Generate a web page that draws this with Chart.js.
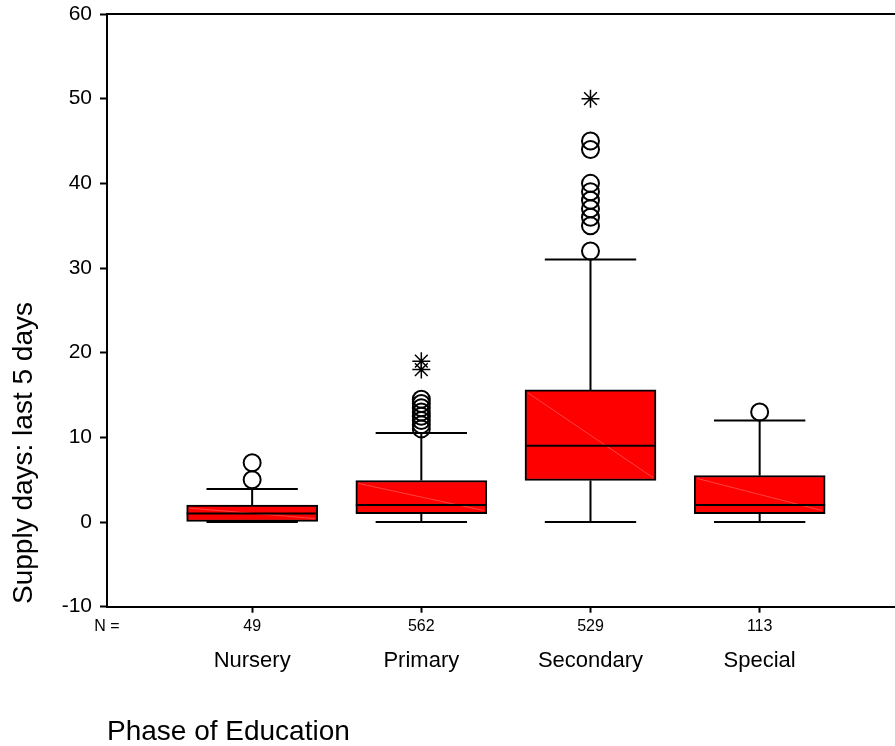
<!DOCTYPE html>
<html>
<head>
<meta charset="utf-8">
<script src="https://cdn.jsdelivr.net/npm/chart.js@4.4.0/dist/chart.umd.min.js"></script>
<style>
    html, body { margin: 0; padding: 0; background: #fff; overflow: hidden; }
    canvas { display: block; }
</style>
</head>
<body>
<canvas id="boxChart" width="895" height="746"></canvas>
<script>
/* ================= DATA ================= */

const categories = ['Nursery', 'Primary', 'Secondary', 'Special'];
const counts = [49, 562, 529, 113];

const whiskerLow = [0, 0, 0, 0];
const quartile1 = [0, 1, 4.9, 1];
const medians = [1, 2, 9, 2];
const quartile3 = [2, 4.9, 15.6, 5.5];
const whiskerHigh = [3.9, 10.5, 31, 12];

const outliers = [
    [5, 7],
    [11, 11.5, 12, 12.5, 13, 13.5, 14, 14.5],
    [32, 35, 36, 37, 38, 39, 40, 44, 45],
    [13]
];
const extremes = [[], [18, 19], [50], []];

const yTicks = [-10, 0, 10, 20, 30, 40, 50, 60];

/* ================= CHART ================= */

const xMin = 0.142;
const xMax = 4.8;
const capHalf = 0.27;
const font = '"Liberation Sans", Arial, sans-serif';

let outlierPoints = [];
let extremePoints = [];

categories.forEach( (cat, i) => {
    outliers[i].forEach( v => outlierPoints.push( { x: i + 1, y: v } ) );
    extremes[i].forEach( v => extremePoints.push( { x: i + 1, y: v } ) );
} );

// keep the plot area where the original has it
function noPadding(scale) {
    scale.paddingLeft = 0;
    scale.paddingRight = 0;
    scale.paddingTop = 0;
    scale.paddingBottom = 0;
}

const boxParts = {
    id: 'boxParts',
    beforeDatasetsDraw(chart) {
        const { ctx, scales: { x, y } } = chart;
        ctx.save();
        ctx.strokeStyle = '#000';
        ctx.lineWidth = 2;
        categories.forEach( (cat, i) => {
            const cx = x.getPixelForValue( i + 1 );
            const half = x.getPixelForValue( i + 1 + capHalf ) - cx;
            const hi = y.getPixelForValue( whiskerHigh[i] );
            const lo = y.getPixelForValue( whiskerLow[i] );
            ctx.beginPath();
            ctx.moveTo( cx, y.getPixelForValue( quartile3[i] ) );
            ctx.lineTo( cx, hi );
            ctx.moveTo( cx, y.getPixelForValue( quartile1[i] ) );
            ctx.lineTo( cx, lo );
            ctx.moveTo( cx - half, hi );
            ctx.lineTo( cx + half, hi );
            ctx.moveTo( cx - half, lo );
            ctx.lineTo( cx + half, lo );
            ctx.stroke();
        } );
        ctx.restore();
    },
    afterDatasetDraw(chart, args) {
        if ( args.index !== 0 ) return;
        const { ctx, scales: { y } } = chart;
        const bars = chart.getDatasetMeta( 0 ).data;
        ctx.save();
        bars.forEach( (bar, i) => {
            const left = bar.x - bar.width / 2;
            const right = bar.x + bar.width / 2;
            const top = Math.min( bar.y, bar.base );
            const bottom = Math.max( bar.y, bar.base );
            // faint diagonal seen in the original rendering
            ctx.strokeStyle = 'rgba(255,120,120,0.55)';
            ctx.lineWidth = 1;
            ctx.beginPath();
            ctx.moveTo( left + 3, top + 3 );
            ctx.lineTo( right - 3, bottom - 3 );
            ctx.stroke();
            // median
            const my = y.getPixelForValue( medians[i] );
            ctx.strokeStyle = '#000';
            ctx.lineWidth = 2;
            ctx.beginPath();
            ctx.moveTo( left, my );
            ctx.lineTo( right, my );
            ctx.stroke();
        } );
        ctx.restore();
    },
    afterDraw(chart) {
        const { ctx, chartArea } = chart;
        ctx.save();
        ctx.strokeStyle = '#000';
        ctx.lineWidth = 2;
        ctx.beginPath();
        ctx.moveTo( chartArea.left - 1, chartArea.top );
        ctx.lineTo( chartArea.right, chartArea.top );
        ctx.stroke();

        ctx.translate( 24, 453 );
        ctx.rotate( -Math.PI / 2 );
        ctx.fillStyle = '#000';
        ctx.font = '28px ' + font;
        ctx.textAlign = 'center';
        ctx.textBaseline = 'middle';
        ctx.fillText( 'Supply days: last 5 days', 0, 0 );
        ctx.restore();
    }
};

const ctx = document.getElementById('boxChart');

let boxChart = new Chart(ctx, {
    type: 'bar',
    data: {
        datasets: [
            {
                type: 'bar',
                data: categories.map( (cat, i) => ( { x: i + 1, y: [ quartile1[i], quartile3[i] ] } ) ),
                backgroundColor: '#ff0000',
                borderColor: '#000000',
                borderWidth: 2,
                borderSkipped: false,
                barThickness: 131,
                order: 2
            },
            {
                type: 'scatter',
                data: outlierPoints,
                pointStyle: 'circle',
                pointRadius: 8.5,
                pointBorderWidth: 2,
                pointBorderColor: '#000',
                pointBackgroundColor: 'rgba(0,0,0,0)',
                order: 1
            },
            {
                type: 'scatter',
                data: extremePoints,
                pointStyle: 'star',
                pointRadius: 9,
                pointBorderWidth: 1.5,
                pointBorderColor: '#000',
                pointBackgroundColor: 'rgba(0,0,0,0)',
                order: 0
            }
        ]
    },
    options: {
        responsive: false,
        animation: false,
        devicePixelRatio: 1,
        layout: {
            autoPadding: false,
            padding: { top: 14, right: 0, bottom: 0, left: 0 }
        },
        plugins: {
            legend: { display: false },
            tooltip: { enabled: false }
        },
        scales: {
            x: {
                type: 'linear',
                position: 'bottom',
                weight: 0,
                min: xMin,
                max: xMax,
                offset: false,
                afterBuildTicks: scale => {
                    scale.ticks = [ xMin, 1, 2, 3, 4 ].map( v => ( { value: v } ) );
                },
                afterFit: scale => { scale.height = 29; noPadding( scale ); },
                ticks: {
                    autoSkip: false,
                    maxRotation: 0,
                    padding: 4,
                    color: '#000',
                    font: { family: font, size: 16 },
                    callback: (value, index) => index === 0 ? 'N =' : String( counts[index - 1] )
                },
                grid: {
                    offset: false,
                    drawOnChartArea: false,
                    drawTicks: true,
                    tickLength: 6,
                    tickWidth: 2,
                    tickColor: c => c.index === 0 ? 'rgba(0,0,0,0)' : '#000'
                },
                border: { display: true, color: '#000', width: 2 }
            },
            x2: {
                type: 'linear',
                position: 'bottom',
                weight: 1,
                min: xMin,
                max: xMax,
                offset: false,
                afterBuildTicks: scale => {
                    scale.ticks = [ 1, 2, 3, 4 ].map( v => ( { value: v } ) );
                },
                afterFit: scale => { scale.height = 110.3; noPadding( scale ); },
                ticks: {
                    autoSkip: false,
                    maxRotation: 0,
                    padding: 12,
                    color: '#000',
                    font: { family: font, size: 22 },
                    callback: (value, index) => categories[index]
                },
                grid: { display: false, drawTicks: false },
                border: { display: false },
                title: {
                    display: true,
                    text: 'Phase of Education',
                    align: 'start',
                    color: '#000',
                    font: { family: font, size: 28, lineHeight: 1 },
                    padding: { top: 0, bottom: 0 }
                }
            },
            y: {
                type: 'linear',
                min: -10,
                max: 60,
                afterBuildTicks: scale => {
                    scale.ticks = yTicks.map( v => ( { value: v } ) );
                },
                afterFit: scale => { scale.width = 107; noPadding( scale ); },
                ticks: {
                    padding: 8,
                    color: '#000',
                    font: { family: font, size: 21 }
                },
                grid: {
                    drawOnChartArea: false,
                    drawTicks: true,
                    tickLength: 7,
                    tickWidth: 2,
                    tickColor: '#000'
                },
                border: { display: true, color: '#000', width: 2 }
            }
        }
    },
    plugins: [ boxParts ]
});
</script>
</body>
</html>
